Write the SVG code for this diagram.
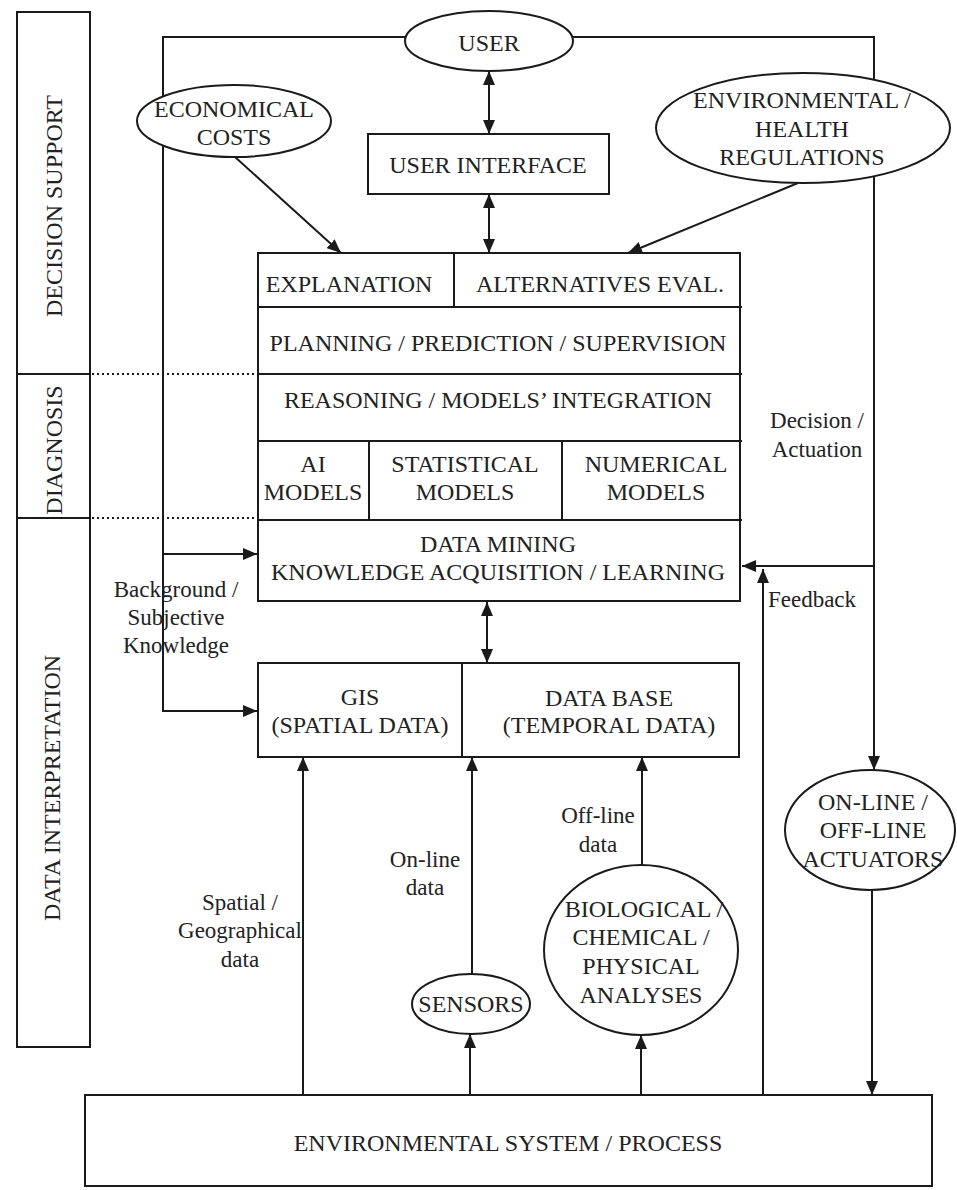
<svg xmlns="http://www.w3.org/2000/svg" width="957" height="1190" viewBox="0 0 957 1190">
<style>
.ln{fill:none;stroke:#1a1a1a;stroke-width:2}
.bx{fill:#fff;stroke:#1a1a1a;stroke-width:2}
.dot{fill:none;stroke:#1a1a1a;stroke-width:2;stroke-dasharray:2 3}
text{font-family:"Liberation Serif","Times New Roman",serif;font-size:24px;fill:#222;text-anchor:middle}
.lb{font-size:23px}
</style>
<defs>
<marker id="ah" viewBox="0 0 14 12" refX="14" refY="6" markerWidth="14" markerHeight="12" orient="auto-start-reverse" markerUnits="userSpaceOnUse">
<path d="M0,0 L14,6 L0,12 Z" fill="#1a1a1a"/>
</marker>
</defs>
<rect width="957" height="1190" fill="#fff"/>

<g id="phases">
<rect class="bx" x="17" y="12" width="73" height="1035"/>
<line class="ln" x1="17" y1="374" x2="90" y2="374"/>
<line class="ln" x1="17" y1="518" x2="90" y2="518"/>
<text transform="translate(62,206) rotate(-90)">DECISION  SUPPORT</text>
<text transform="translate(62,450) rotate(-90)">DIAGNOSIS</text>
<text transform="translate(60,788) rotate(-90)">DATA  INTERPRETATION</text>
</g>

<g id="connectors">
<path class="ln" d="M420,37 H163 V711 H257" marker-end="url(#ah)"/>
<path class="ln" d="M163,554 H257" marker-end="url(#ah)"/>
<path class="ln" d="M560,37 H874 V770" marker-end="url(#ah)"/>
<path class="ln" d="M874,566 H742" marker-end="url(#ah)"/>
<path class="ln" d="M763,1095 V569" marker-end="url(#ah)"/>
<path class="ln" d="M489,71 V134" marker-start="url(#ah)" marker-end="url(#ah)"/>
<path class="ln" d="M489,194 V253" marker-start="url(#ah)" marker-end="url(#ah)"/>
<path class="ln" d="M487,602 V663" marker-start="url(#ah)" marker-end="url(#ah)"/>
<path class="ln" d="M235,157 L341,253" marker-end="url(#ah)"/>
<path class="ln" d="M798,183 L628,253" marker-end="url(#ah)"/>
<path class="ln" d="M303,1095 V757" marker-end="url(#ah)"/>
<path class="ln" d="M472,974 V757" marker-end="url(#ah)"/>
<path class="ln" d="M470,1095 V1034" marker-end="url(#ah)"/>
<path class="ln" d="M642,866 V757" marker-end="url(#ah)"/>
<path class="ln" d="M641,1095 V1035" marker-end="url(#ah)"/>
<path class="ln" d="M872,890 V1095" marker-end="url(#ah)"/>
<path class="dot" d="M92,374 H257"/>
<path class="dot" d="M92,518 H257"/>
</g>

<g id="connector-labels">
<text class="lb" x="176" y="597">Background /</text>
<text class="lb" x="176" y="625">Subjective</text>
<text class="lb" x="176" y="653">Knowledge</text>
<text class="lb" x="817" y="428">Decision /</text>
<text class="lb" x="817" y="457">Actuation</text>
<text class="lb" x="812" y="607">Feedback</text>
<text class="lb" x="240" y="910">Spatial /</text>
<text class="lb" x="240" y="938">Geographical</text>
<text class="lb" x="240" y="967">data</text>
<text class="lb" x="425" y="867">On-line</text>
<text class="lb" x="425" y="895">data</text>
<text class="lb" x="598" y="823">Off-line</text>
<text class="lb" x="598" y="852">data</text>
</g>

<g id="user">
<ellipse class="bx" cx="489" cy="41" rx="84" ry="30"/>
<text x="489" y="51">USER</text>
</g>

<g id="user-interface">
<rect class="bx" x="368" y="134" width="241" height="60"/>
<text x="488" y="173">USER INTERFACE</text>
</g>

<g id="economical-costs">
<ellipse class="bx" cx="234" cy="121" rx="97" ry="36"/>
<text x="234" y="117">ECONOMICAL</text>
<text x="234" y="145">COSTS</text>
</g>

<g id="regulations">
<ellipse class="bx" cx="803" cy="128" rx="147" ry="55"/>
<text x="802" y="108">ENVIRONMENTAL /</text>
<text x="802" y="137">HEALTH</text>
<text x="802" y="165">REGULATIONS</text>
</g>

<g id="core">
<rect class="bx" x="258" y="253" width="482" height="348"/>
<line class="ln" x1="258" y1="307" x2="742" y2="307"/>
<line class="ln" x1="454" y1="253" x2="454" y2="307"/>
<line class="ln" x1="258" y1="374" x2="742" y2="374"/>
<line class="ln" x1="258" y1="441" x2="742" y2="441"/>
<line class="ln" x1="258" y1="520" x2="742" y2="520"/>
<line class="ln" x1="369" y1="441" x2="369" y2="520"/>
<line class="ln" x1="562" y1="441" x2="562" y2="520"/>
<text x="349" y="292">EXPLANATION</text>
<text x="600" y="292">ALTERNATIVES  EVAL.</text>
<text x="498" y="351">PLANNING / PREDICTION / SUPERVISION</text>
<text x="498" y="408">REASONING / MODELS’ INTEGRATION</text>
<text x="313" y="472">AI</text>
<text x="313" y="500">MODELS</text>
<text x="465" y="472">STATISTICAL</text>
<text x="465" y="500">MODELS</text>
<text x="656" y="472">NUMERICAL</text>
<text x="656" y="500">MODELS</text>
<text x="498" y="552">DATA  MINING</text>
<text x="498" y="580">KNOWLEDGE ACQUISITION / LEARNING</text>
</g>

<g id="data-stores">
<rect class="bx" x="258" y="663" width="481" height="94"/>
<line class="ln" x1="462" y1="663" x2="462" y2="757"/>
<text x="360" y="705">GIS</text>
<text x="360" y="733">(SPATIAL DATA)</text>
<text x="609" y="706">DATA BASE</text>
<text x="609" y="733">(TEMPORAL DATA)</text>
</g>

<g id="sensors">
<ellipse class="bx" cx="471" cy="1004" rx="59" ry="30"/>
<text x="471" y="1012">SENSORS</text>
</g>

<g id="analyses">
<ellipse class="bx" cx="641" cy="950" rx="97" ry="85"/>
<text x="644" y="917">BIOLOGICAL /</text>
<text x="641" y="945">CHEMICAL /</text>
<text x="641" y="974">PHYSICAL</text>
<text x="641" y="1003">ANALYSES</text>
</g>

<g id="actuators">
<ellipse class="bx" cx="870" cy="830" rx="85" ry="60"/>
<text x="873" y="810">ON-LINE /</text>
<text x="873" y="838">OFF-LINE</text>
<text x="873" y="867">ACTUATORS</text>
</g>

<g id="environmental-system">
<rect class="bx" x="85" y="1095" width="847" height="91"/>
<text x="508" y="1151">ENVIRONMENTAL SYSTEM / PROCESS</text>
</g>
</svg>
